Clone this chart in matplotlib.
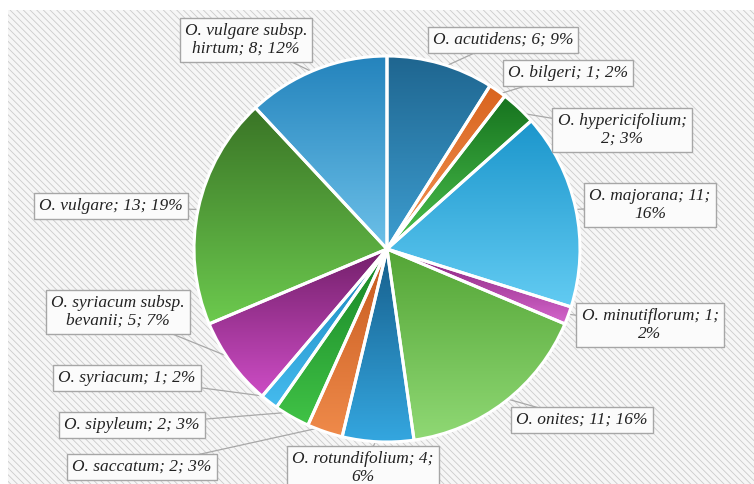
import numpy as np
import matplotlib.pyplot as plt
from matplotlib.colors import LinearSegmentedColormap
from matplotlib.patches import Rectangle

# data (clockwise from 12 o'clock)
species = ['O. acutidens', 'O. bilgeri', 'O. hypericifolium', 'O. majorana',
           'O. minutiflorum', 'O. onites', 'O. rotundifolium', 'O. saccatum',
           'O. sipyleum', 'O. syriacum', 'O. syriacum subsp. bevanii',
           'O. vulgare', 'O. vulgare subsp. hirtum']
counts = [6, 1, 2, 11, 1, 11, 4, 2, 2, 1, 5, 13, 8]
percents = [9, 2, 3, 16, 2, 16, 6, 3, 3, 2, 7, 19, 12]
label_text = ['O. acutidens; 6; 9%', 'O. bilgeri; 1; 2%', 'O. hypericifolium;\n2; 3%',
              'O. majorana; 11;\n16%', 'O. minutiflorum; 1;\n2%', 'O. onites; 11; 16%',
              'O. rotundifolium; 4;\n6%', 'O. saccatum; 2; 3%', 'O. sipyleum; 2; 3%',
              'O. syriacum; 1; 2%', 'O. syriacum subsp.\nbevanii; 5; 7%',
              'O. vulgare; 13; 19%', 'O. vulgare subsp.\nhirtum; 8; 12%']

# (dark top, light bottom) per slice
grad = [('#1f6690', '#3d9dd0'), ('#d9641f', '#f39555'), ('#17741f', '#4cc24e'),
        ('#1c96cc', '#62cbf2'), ('#852079', '#d466cc'), ('#54a536', '#8fd874'),
        ('#175f8c', '#34a6df'), ('#c65a1e', '#ef8a4a'), ('#178426', '#40c246'),
        ('#1985bd', '#45bbee'), ('#74206b', '#cc4cc4'), ('#3a7526', '#6cc94e'),
        ('#2584bd', '#6cc0e8')]

W, H = 754, 484
fig = plt.figure(figsize=(W / 100, H / 100), dpi=100)
ax = fig.add_axes([0, 0, 1, 1])

plt.rcParams['hatch.linewidth'] = 0.6
# hatched backdrop
ax.add_patch(Rectangle((8, 0), W - 8, H - 10, facecolor='#f6f6f6',
                       edgecolor='#cbcbcb', linewidth=0, hatch='\\\\\\\\\\', zorder=0))

cx, cy, r = 387, 235, 193
wedges, _ = ax.pie(counts, startangle=90, counterclock=False, center=(cx, cy),
                   radius=r, frame=True,
                   wedgeprops=dict(edgecolor='white', linewidth=2.2))
ax.set_aspect('equal')

for w, (c1, c2) in zip(wedges, grad):
    w.set_facecolor('none')
    w.set_zorder(3)
    bb = w.get_path().get_extents(w.get_transform())
    x0, y0, x1, y1 = ax.transData.inverted().transform(bb.get_points()).ravel()
    cmap = LinearSegmentedColormap.from_list('g', [c2, c1])
    g = np.linspace(0, 1, 64).reshape(-1, 1)
    im = ax.imshow(g, cmap=cmap, extent=(x0, x1, y0, y1), origin='lower',
                   aspect='auto', zorder=2, interpolation='bilinear')
    im.set_clip_path(w)

ax.set_xlim(0, W)
ax.set_ylim(0, H)
ax.axis('off')

# label box centres (pixels from top-left)
box_pos = [(503, 40), (568, 73), (622, 130), (650, 205), (650, 325), (582, 420),
           (363, 468), (142, 467), (132, 425), (127, 378), (118, 312), (111, 206),
           (246, 40)]

for w, txt, (bx, by) in zip(wedges, label_text, box_pos):
    ang = np.deg2rad((w.theta1 + w.theta2) / 2)
    ex, ey = cx + r * 0.97 * np.cos(ang), cy + r * 0.97 * np.sin(ang)
    ty = H - by
    ax.plot([ex, bx], [ey, ty], color='#a8a8a8', lw=0.9, zorder=1)
    ax.text(bx, ty, txt, ha='center', va='center', fontsize=12.5, style='italic',
            family='Liberation Serif', color='#222222', linespacing=1.15, zorder=5,
            bbox=dict(boxstyle='square,pad=0.3', facecolor='#fbfbfb',
                      edgecolor='#a6a6a6', linewidth=1))

fig.savefig('out.png', dpi=100)
